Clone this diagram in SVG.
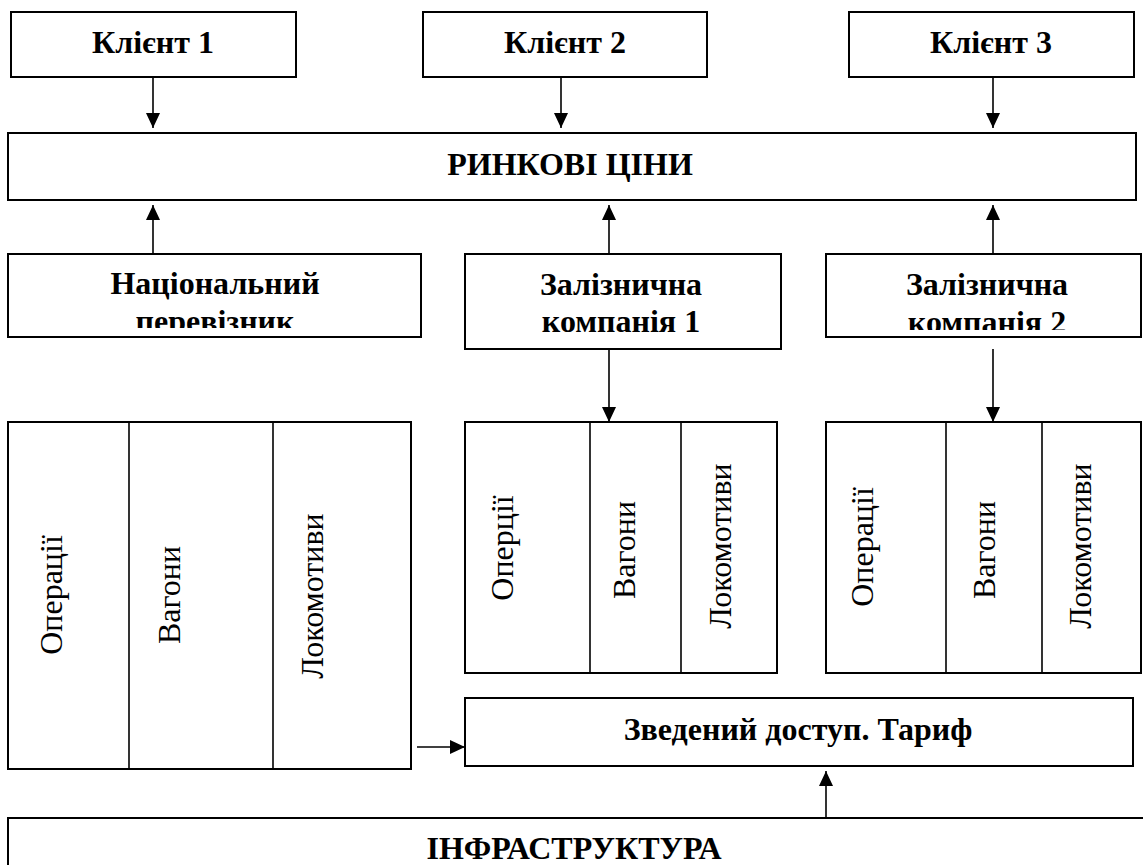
<svg xmlns="http://www.w3.org/2000/svg" width="1143" height="865" viewBox="0 0 1143 865">
<style>
  .box{fill:#fff;stroke:#000;stroke-width:2}
  .div{stroke:#000;stroke-width:1.6;fill:none}
  .b{font-family:"Liberation Serif","Times New Roman",serif;font-weight:bold;font-size:32px;text-anchor:middle;fill:#000}
  .v{font-family:"Liberation Serif","Times New Roman",serif;font-size:32px;text-anchor:middle;fill:#000}
  .con{stroke:#000;stroke-width:1.6;fill:none;marker-end:url(#ah)}
</style>
<defs>
  <marker id="ah" viewBox="0 0 15 14" refX="15" refY="7" markerWidth="15" markerHeight="14" markerUnits="userSpaceOnUse" orient="auto">
    <path d="M0,0 L15,7 L0,14 Z" fill="#000"/>
  </marker>
  <clipPath id="clipNat"><rect x="9" y="255" width="411" height="73"/></clipPath>
  <clipPath id="clipC2"><rect x="827" y="255" width="314" height="75"/></clipPath>
</defs>
<rect width="1143" height="865" fill="#fff"/>

<g id="client1"><rect class="box" x="11" y="12" width="285" height="65"/><text class="b" x="153" y="53">Клієнт 1</text></g>
<g id="client2"><rect class="box" x="423" y="12" width="284" height="65"/><text class="b" x="565" y="53">Клієнт 2</text></g>
<g id="client3"><rect class="box" x="849" y="12" width="285" height="65"/><text class="b" x="991" y="53">Клієнт 3</text></g>

<g id="market"><rect class="box" x="8" y="133" width="1128" height="67"/><text class="b" x="570" y="175">РИНКОВІ ЦІНИ</text></g>

<g id="national-carrier"><rect class="box" x="8" y="254" width="413" height="83"/>
  <g clip-path="url(#clipNat)"><text class="b" x="215" y="294">Національний</text><text class="b" x="215" y="332">перевізник</text></g></g>
<g id="rail-company-1"><rect class="box" x="465" y="254" width="316" height="95"/>
  <text class="b" x="621" y="295">Залізнична</text><text class="b" x="621" y="332">компанія 1</text></g>
<g id="rail-company-2"><rect class="box" x="826" y="254" width="315" height="83"/>
  <g clip-path="url(#clipC2)"><text class="b" x="987" y="295">Залізнична</text><text class="b" x="987" y="333">компанія 2</text></g></g>

<g id="national-assets"><rect class="box" x="8" y="422" width="403" height="347"/>
  <line class="div" x1="129" y1="422" x2="129" y2="769"/><line class="div" x1="273" y1="422" x2="273" y2="769"/>
  <text class="v" transform="translate(62,595) rotate(-90)">Операції</text>
  <text class="v" transform="translate(180,595) rotate(-90)">Вагони</text>
  <text class="v" transform="translate(323,596) rotate(-90)">Локомотиви</text></g>
<g id="company1-assets"><rect class="box" x="465" y="422" width="312" height="251"/>
  <line class="div" x1="590" y1="422" x2="590" y2="673"/><line class="div" x1="681" y1="422" x2="681" y2="673"/>
  <text class="v" transform="translate(513,548) rotate(-90)">Оперції</text>
  <text class="v" transform="translate(635,550) rotate(-90)">Вагони</text>
  <text class="v" transform="translate(731,546) rotate(-90)">Локомотиви</text></g>
<g id="company2-assets"><rect class="box" x="826" y="422" width="315" height="251"/>
  <line class="div" x1="946" y1="422" x2="946" y2="673"/><line class="div" x1="1042" y1="422" x2="1042" y2="673"/>
  <text class="v" transform="translate(873,547) rotate(-90)">Операції</text>
  <text class="v" transform="translate(995,550) rotate(-90)">Вагони</text>
  <text class="v" transform="translate(1091,546) rotate(-90)">Локомотиви</text></g>

<g id="tariff"><rect class="box" x="465" y="698" width="668" height="68"/><text class="b" x="798" y="740">Зведений доступ. Тариф</text></g>

<g id="infrastructure"><rect class="box" x="8" y="818" width="1145" height="60"/><text class="b" x="574" y="859">ІНФРАСТРУКТУРА</text></g>

<g id="connectors">
  <line class="con" x1="153" y1="77" x2="153" y2="128"/>
  <line class="con" x1="561" y1="77" x2="561" y2="128"/>
  <line class="con" x1="993" y1="77" x2="993" y2="128"/>
  <line class="con" x1="153" y1="254" x2="153" y2="205"/>
  <line class="con" x1="609" y1="254" x2="609" y2="205"/>
  <line class="con" x1="993" y1="254" x2="993" y2="205"/>
  <line class="con" x1="609" y1="349" x2="609" y2="422"/>
  <line class="con" x1="993" y1="349" x2="993" y2="422"/>
  <line class="con" x1="417" y1="747" x2="465" y2="747"/>
  <line class="con" x1="826" y1="818" x2="826" y2="771"/>
</g>
</svg>
